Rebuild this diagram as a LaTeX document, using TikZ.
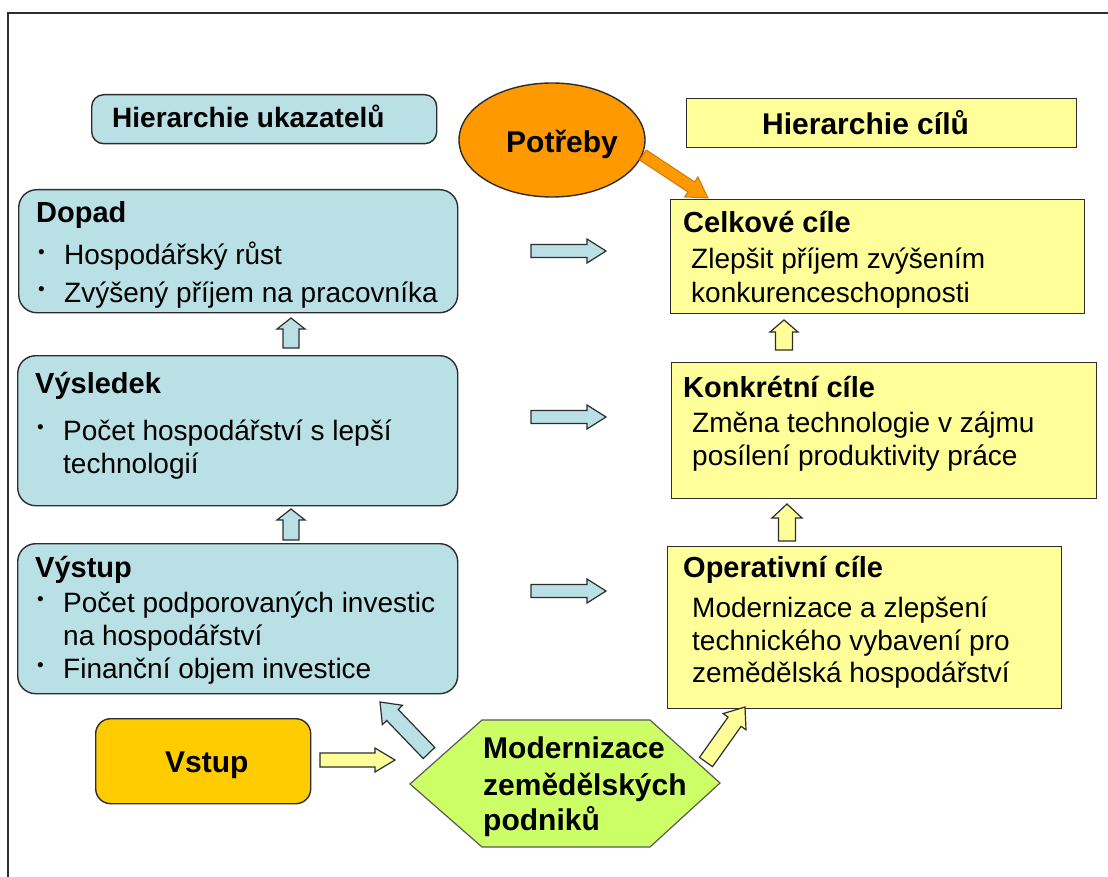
\documentclass[tikz,border=0pt]{standalone}
\usepackage{fontspec}
\setmainfont{Liberation Sans}
\usetikzlibrary{shapes.geometric,calc}
\definecolor{cblue}{RGB}{185,224,228}
\definecolor{cyel}{RGB}{255,255,153}
\definecolor{corange}{RGB}{255,153,0}
\definecolor{cdorange}{RGB}{215,120,0}
\definecolor{cgold}{RGB}{255,204,0}
\definecolor{cgreen}{RGB}{204,255,102}
\definecolor{cline}{RGB}{45,45,45}

% block arrow from #1 to #2: shaft half-width #3, head half-width #4, head length #5, style #6
\newcommand{\blockarr}[6]{%
  \path let \p1=(#1), \p2=(#2),
    \n1={atan2(\y2-\y1,\x2-\x1)}, \n2={veclen(\x2-\x1,\y2-\y1)} in
    \pgfextra{\xdef\baang{\n1}\xdef\balen{\n2}\xdef\bax{\x1}\xdef\bay{\y1}};
  \begin{scope}[shift={(\bax,\bay)}, rotate=\baang]
    \draw[#6] (0pt,-#3pt) -- ({\balen-#5pt},-#3pt) -- ({\balen-#5pt},-#4pt)
      -- (\balen,0pt) -- ({\balen-#5pt},#4pt) -- ({\balen-#5pt},#3pt)
      -- (0pt,#3pt) -- cycle;
  \end{scope}}
\newcommand{\smbullet}{\raisebox{6.5pt}{\fontsize{19}{20}\selectfont\textbullet}}

\tikzset{
  bluebox/.style={draw=cline, line width=1.4pt, fill=cblue, rounded corners=18pt,
    anchor=north west, inner sep=0pt},
  yelbox/.style={draw=cline, line width=1.4pt, fill=cyel, anchor=north west, inner sep=0pt},
  ttl/.style={font=\bfseries\fontsize{29}{33}\selectfont, inner sep=0pt, anchor=base west},
  bigttl/.style={font=\bfseries\fontsize{30}{37}\selectfont, inner sep=0pt, anchor=base west},
  bdy/.style={font=\fontsize{28}{33}\selectfont, inner sep=0pt, anchor=base west},
  barrow/.style={draw=cline, line width=1.2pt, fill=cblue, line join=miter},
  yarrow/.style={draw=cline, line width=1.2pt, fill=cyel, line join=miter},
  oarrow/.style={draw=cdorange, line width=1pt, fill=corange, line join=miter}
}

\begin{document}
\begin{tikzpicture}[x=1pt,y=-1pt]
\useasboundingbox (0,0) rectangle (1108,877);
\fill[white] (0,0) rectangle (1108,877);
\draw[cline, line width=1.5pt] (8,877) -- (8,13) -- (1108,13);

% ---- left column (indicators)
\node[bluebox, rounded corners=12pt, minimum width=345pt, minimum height=49pt] (ukaz) at (91,94) {};
\node[ttl, font=\bfseries\fontsize{28}{33}\selectfont] (ukazt) at (112,128) {Hierarchie ukazatelů};

\node[bluebox, minimum width=439pt, minimum height=123pt] (dopad) at (18,189) {};
\node[ttl] (dopadt) at (36,223) {Dopad};
\node[bdy] (dopb1) at (38,265) {\smbullet};
\node[bdy] (dop1) at (64,265) {Hospodářský růst};
\node[bdy] (dopb2) at (38,302) {\smbullet};
\node[bdy] (dop2) at (64,302) {Zvýšený příjem na pracovníka};

\node[bluebox, minimum width=440pt, minimum height=150pt] (vysl) at (17,355) {};
\node[ttl] (vyslt) at (35,393) {Výsledek};
\node[bdy] (vyslb1) at (37,440) {\smbullet};
\node[bdy] (vysl1) at (63,440) {Počet hospodářství s lepší};
\node[bdy] (vysl2) at (63,473) {technologií};

\node[bluebox, minimum width=440pt, minimum height=150pt] (vyst) at (17,543) {};
\node[ttl] (vystt) at (35,577) {Výstup};
\node[bdy] (vystb1) at (37,612) {\smbullet};
\node[bdy] (vyst1) at (63,612) {Počet podporovaných investic};
\node[bdy] (vyst2) at (63,645) {na hospodářství};
\node[bdy] (vystb3) at (37,678) {\smbullet};
\node[bdy] (vyst3) at (63,678) {Finanční objem investice};

\node[bluebox, fill=cgold, rounded corners=15pt, minimum width=215pt, minimum height=85pt] (vstup) at (95,718) {};
\node[bigttl] (vstupt) at (165,772) {Vstup};

% ---- needs
\node[ellipse, draw=cline, line width=1.4pt, fill=corange, minimum width=186pt, minimum height=114pt, inner sep=0pt] (potr) at (552,140) {};
\node[bigttl] (potrt) at (506,153) {Potřeby};

% ---- right column (objectives)
\node[yelbox, minimum width=390pt, minimum height=49pt] (hcil) at (686,98) {};
\node[bigttl] (hcilt) at (762,135) {Hierarchie cílů};

\node[yelbox, minimum width=414pt, minimum height=114pt] (celk) at (670,199) {};
\node[ttl] (celkt) at (683,233) {Celkové cíle};
\node[bdy] (celk1) at (691,269) {Zlepšit příjem zvýšením};
\node[bdy] (celk2) at (691,302) {konkurenceschopnosti};

\node[yelbox, minimum width=425pt, minimum height=136pt] (konk) at (671,362) {};
\node[ttl] (konkt) at (683,397) {Konkrétní cíle};
\node[bdy] (konk1) at (692,432) {Změna technologie v zájmu};
\node[bdy] (konk2) at (692,465) {posílení produktivity práce};

\node[yelbox, minimum width=394pt, minimum height=162pt] (oper) at (667,546) {};
\node[ttl] (opert) at (683,577) {Operativní cíle};
\node[bdy] (oper1) at (692,617) {Modernizace a zlepšení};
\node[bdy] (oper2) at (692,650) {technického vybavení pro};
\node[bdy] (oper3) at (692,682) {zemědělská hospodářství};

% ---- hexagon
\coordinate (hex) at (565,784);
\draw[draw=black!65, line width=1.2pt, fill=cgreen, line join=miter]
  (410,784) -- (482,720) -- (650,720) -- (720,783) -- (650,847) -- (482,847) -- cycle;
\node[bigttl] (hex1) at (483,758) {Modernizace};
\node[bigttl] (hex2) at (483,795) {zemědělských};
\node[bigttl] (hex3) at (483,830) {podniků};

% ---- arrow end points
\coordinate (r1s) at (531,251); \coordinate (r1e) at (606,251);
\coordinate (r2s) at (531,417); \coordinate (r2e) at (606,417);
\coordinate (r3s) at (531,591); \coordinate (r3e) at (606,591);
\coordinate (u1s) at (291,348); \coordinate (u1e) at (291,318);
\coordinate (u2s) at (291,540); \coordinate (u2e) at (291,509);
\coordinate (y1s) at (784,350); \coordinate (y1e) at (784,320);
\coordinate (y2s) at (787,541); \coordinate (y2e) at (787,504);
\coordinate (vs) at (320,760); \coordinate (ve) at (395,760);
\coordinate (d1s) at (429,753); \coordinate (d1e) at (380,702);
\coordinate (d2s) at (706,762); \coordinate (d2e) at (745,707);
\coordinate (os) at (643,155); \coordinate (oe) at (708,198);

\blockarr{r1s}{r1e}{6.5}{12}{19}{barrow}
\blockarr{r2s}{r2e}{6.5}{12}{19}{barrow}
\blockarr{r3s}{r3e}{6.5}{12}{19}{barrow}
\blockarr{u1s}{u1e}{8}{14}{11}{barrow}
\blockarr{u2s}{u2e}{8}{14}{11}{barrow}
\blockarr{y1s}{y1e}{8.5}{14}{12}{yarrow}
\blockarr{y2s}{y2e}{8.5}{15}{14}{yarrow}
\blockarr{vs}{ve}{7}{12}{20}{yarrow}
\blockarr{d1s}{d1e}{8}{14}{18}{barrow}
\blockarr{d2s}{d2e}{8}{14}{18}{yarrow}
\blockarr{os}{oe}{6}{12}{20}{oarrow}
\end{tikzpicture}
\end{document}
